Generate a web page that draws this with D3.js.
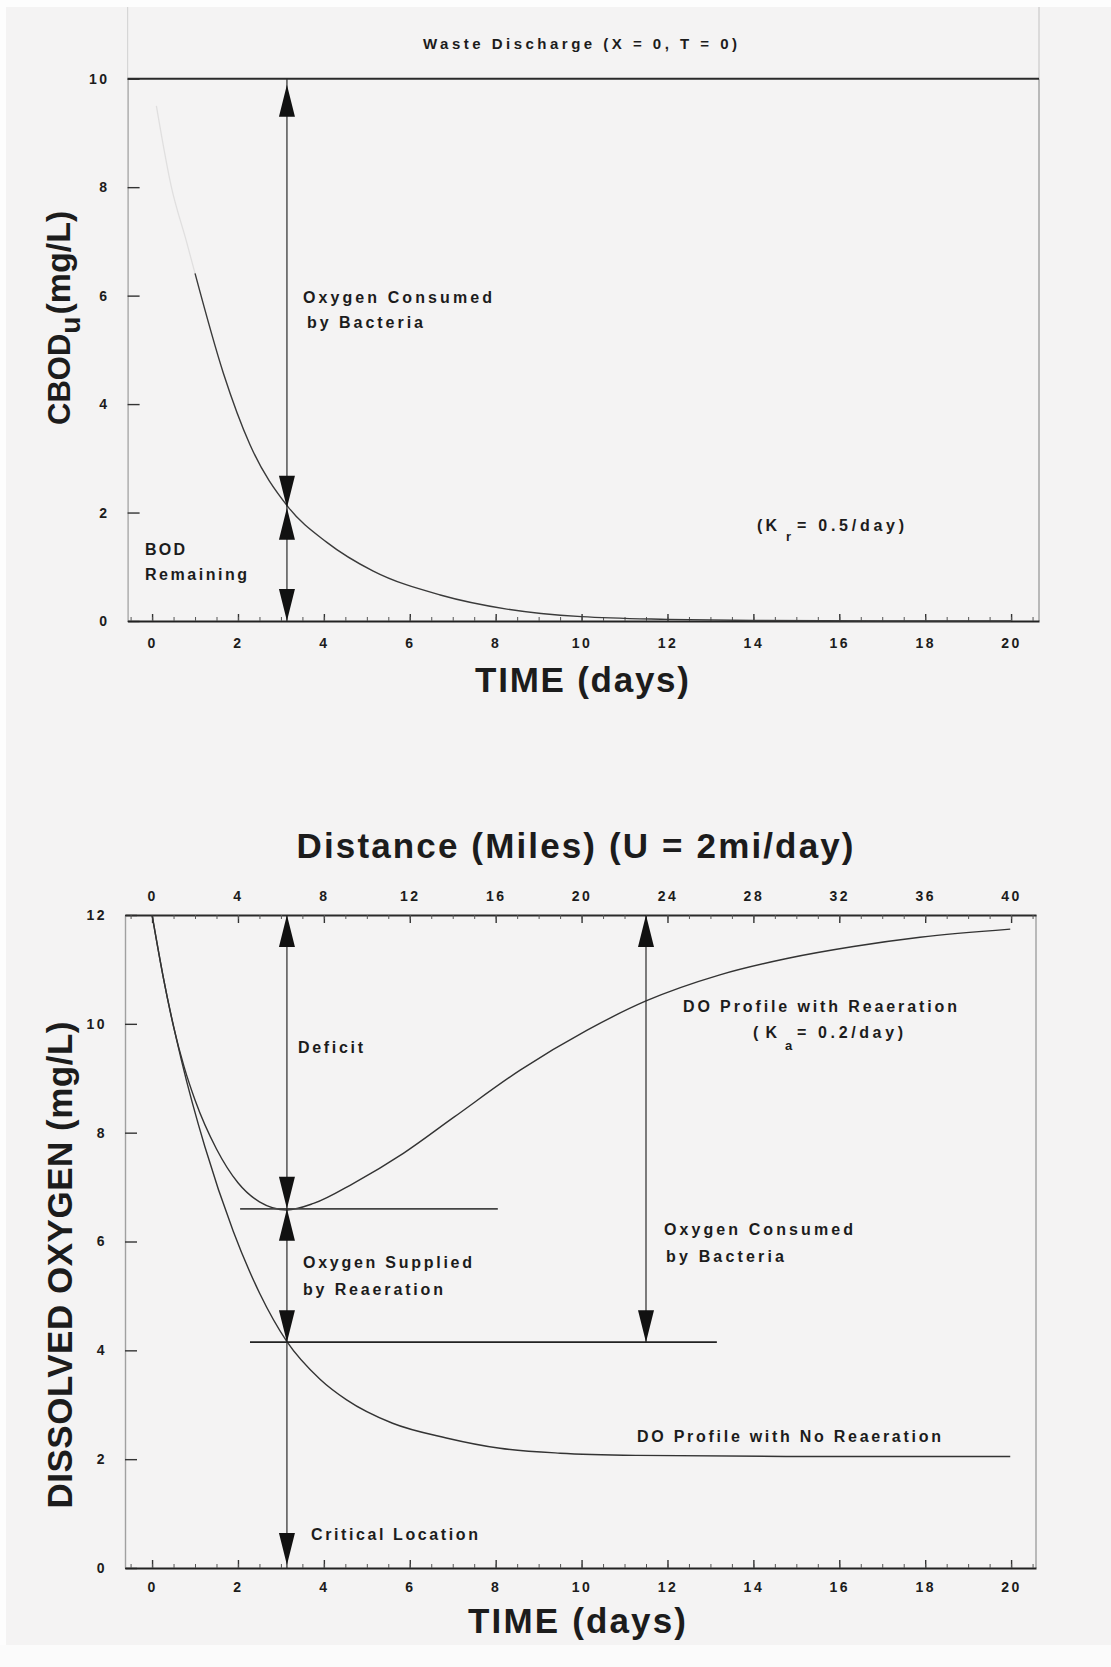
<!DOCTYPE html>
<html>
<head>
<meta charset="utf-8">
<script src="https://cdn.jsdelivr.net/npm/d3@7"></script>
<style>
  body { margin: 0; background: #f4f3f3; }
  svg { display: block; }
  text { font-family: "Liberation Sans", Arial, sans-serif; fill: #1c1c1c; }
</style>
</head>
<body>
<div class="chart"></div>
<script>
var svgWidth = 1111;
var svgHeight = 1667;

// ---- data ----
// upper panel: CBOD remaining (mg/L) vs time (days)
var bodTime  = [1.0, 1.66, 2.28, 3.17, 4.07, 5.15, 6.71, 8.26, 10, 12, 14, 17, 20];
var bodValue = [6.41, 4.57, 3.25, 2.1, 1.45, 0.92, 0.48, 0.22, 0.08, 0.03, 0.01, 0.0, 0.0];
// faded start of the same curve (barely visible in the scan)
var bodFadedTime  = [0.1, 0.45, 0.8, 1.0];
var bodFadedValue = [9.5, 8.0, 7.0, 6.41];

// lower panel: DO (mg/L) vs time (days)
var doReaerTime  = [0, 0.25, 0.5, 0.75, 1.0, 1.5, 2.0, 2.5, 3.14, 3.76, 4.69, 5.85, 7.02, 8.57, 10.12, 11.5, 13.22, 14.78, 16.33, 17.88, 19.98];
var doReaerValue = [12, 10.9, 9.95, 9.2, 8.6, 7.7, 7.08, 6.73, 6.58, 6.7, 7.07, 7.62, 8.28, 9.15, 9.88, 10.42, 10.9, 11.2, 11.42, 11.59, 11.74];
var doNoReaerTime  = [0, 0.26, 0.69, 1.23, 1.89, 2.51, 3.14, 3.91, 4.53, 5.6, 6.85, 8.1, 9.5, 11.3, 14.8, 19.98];
var doNoReaerValue = [12, 10.86, 9.31, 7.74, 6.19, 5.04, 4.16, 3.47, 3.09, 2.66, 2.39, 2.2, 2.11, 2.07, 2.05, 2.05];

// reference levels and times used by the annotation arrows
var criticalTime = 3.14;
var laterTime = 11.5;
var bodAtCritical = 2.09;
var doMinReaer = 6.6;
var doCritical = 4.15;

// tick labels
var timeTicks = [0, 2, 4, 6, 8, 10, 12, 14, 16, 18, 20];
var bodTicks = [0, 2, 4, 6, 8, 10];
var doTicks = [0, 2, 4, 6, 8, 10, 12];
var mileTicks = [0, 4, 8, 12, 16, 20, 24, 28, 32, 36, 40];

var svg = d3.select(".chart")
  .append("svg")
  .attr("width", svgWidth)
  .attr("height", svgHeight);

// scanned page look: grey sheet with thin white margins
svg.append("rect").attr("width", svgWidth).attr("height", svgHeight).attr("fill", "#f4f3f3");
svg.append("rect").attr("width", svgWidth).attr("height", 7).attr("fill", "#fdfdfd");
svg.append("rect").attr("width", 6).attr("height", svgHeight).attr("fill", "#fdfdfd");
svg.append("rect").attr("y", 1645).attr("width", svgWidth).attr("height", 22).attr("fill", "#fbfbfb");

// scales
var xTop = d3.scaleLinear().domain([-0.57, 20.65]).range([127.6, 1039]);
var yTop = d3.scaleLinear().domain([0, 10]).range([621, 78.7]);
var xBot = d3.scaleLinear().domain([-0.63, 20.58]).range([125, 1036]);
var yBot = d3.scaleLinear().domain([0, 12]).range([1568, 915]);
var xMiles = d3.scaleLinear().domain([-1.26, 41.16]).range([125, 1036]);

function styleAxis(g, domainColor) {
  g.select(".domain").attr("stroke", domainColor).attr("stroke-width", 1.4);
  g.selectAll(".tick line").attr("stroke", "#333").attr("stroke-width", 1.4);
  g.selectAll(".tick text")
    .attr("fill", "#222")
    .style("font-size", "14px")
    .style("font-weight", "bold")
    .style("letter-spacing", "2.5px");
}

function minorTicks(g, axis) {
  g.call(axis);
  g.select(".domain").remove();
  g.selectAll(".tick line").attr("stroke", "#555").attr("stroke-width", 1);
}

// ================= upper panel =================
var topG = svg.append("g");

// faint frame extensions above the 10 line
topG.append("line").attr("x1", 127.6).attr("x2", 127.6).attr("y1", 7).attr("y2", yTop(10))
  .attr("stroke", "#d6d6d6").attr("stroke-width", 1.2);
topG.append("line").attr("x1", 1039).attr("x2", 1039).attr("y1", 7).attr("y2", yTop(10))
  .attr("stroke", "#cacaca").attr("stroke-width", 1.2);

// right border
topG.append("line").attr("x1", 1039).attr("x2", 1039).attr("y1", yTop(10)).attr("y2", yTop(0))
  .attr("stroke", "#9a9a9a").attr("stroke-width", 1.3);

// left axis
var topLeft = topG.append("g").attr("transform", "translate(127.6,0)")
  .call(d3.axisLeft(yTop).tickValues(bodTicks).tickSize(-12).tickSizeOuter(0).tickPadding(18));
styleAxis(topLeft, "#a8a8a8");

// bottom axis
var topBottom = topG.append("g").attr("transform", "translate(0," + yTop(0) + ")")
  .call(d3.axisBottom(xTop).tickValues(timeTicks).tickSize(-7).tickSizeOuter(0).tickPadding(17));
styleAxis(topBottom, "#222");
topBottom.select(".domain").attr("stroke-width", 2);
minorTicks(topG.append("g").attr("transform", "translate(0," + yTop(0) + ")"),
  d3.axisBottom(xTop).tickValues(d3.range(-0.5, 20.51, 0.5)).tickSize(-4).tickFormat(""));

// waste discharge line at CBOD = 10
topG.append("line").attr("x1", xTop.range()[0]).attr("x2", xTop.range()[1])
  .attr("y1", yTop(10)).attr("y2", yTop(10))
  .attr("stroke", "#2a2a2a").attr("stroke-width", 2);

// BOD curve
var bodLine = d3.line().x(d => xTop(d[0])).y(d => yTop(d[1])).curve(d3.curveMonotoneX);
topG.append("path").datum(d3.zip(bodFadedTime, bodFadedValue))
  .attr("d", bodLine).attr("fill", "none").attr("stroke", "#e0dfdf").attr("stroke-width", 1.3);
topG.append("path").datum(d3.zip(bodTime, bodValue))
  .attr("d", bodLine).attr("fill", "none").attr("stroke", "#3a3a3a").attr("stroke-width", 1.4);

// ================= lower panel =================
var botG = svg.append("g");

// right border
botG.append("line").attr("x1", 1036).attr("x2", 1036).attr("y1", yBot(12)).attr("y2", yBot(0))
  .attr("stroke", "#9a9a9a").attr("stroke-width", 1.3);

var botLeft = botG.append("g").attr("transform", "translate(125,0)")
  .call(d3.axisLeft(yBot).tickValues(doTicks).tickSize(-12).tickSizeOuter(0).tickPadding(18));
styleAxis(botLeft, "#a0a0a0");

var botBottom = botG.append("g").attr("transform", "translate(0," + yBot(0) + ")")
  .call(d3.axisBottom(xBot).tickValues(timeTicks).tickSize(-8).tickSizeOuter(0).tickPadding(14));
styleAxis(botBottom, "#222");
botBottom.select(".domain").attr("stroke-width", 2);
minorTicks(botG.append("g").attr("transform", "translate(0," + yBot(0) + ")"),
  d3.axisBottom(xBot).tickValues(d3.range(-0.5, 20.51, 0.5)).tickSize(-4).tickFormat(""));

// distance axis on top
var botTop = botG.append("g").attr("transform", "translate(0," + yBot(12) + ")")
  .call(d3.axisTop(xMiles).tickValues(mileTicks).tickSize(-8).tickSizeOuter(0).tickPadding(14));
styleAxis(botTop, "#2a2a2a");
botTop.select(".domain").attr("stroke-width", 2);
minorTicks(botG.append("g").attr("transform", "translate(0," + yBot(12) + ")"),
  d3.axisTop(xMiles).tickValues(d3.range(-1, 41.1, 1)).tickSize(-4).tickFormat(""));

var doLine = d3.line().x(d => xBot(d[0])).y(d => yBot(d[1])).curve(d3.curveMonotoneX);
botG.append("path").datum(d3.zip(doReaerTime, doReaerValue))
  .attr("d", doLine).attr("fill", "none").attr("stroke", "#333").attr("stroke-width", 1.4);
botG.append("path").datum(d3.zip(doNoReaerTime, doNoReaerValue))
  .attr("d", doLine).attr("fill", "none").attr("stroke", "#333").attr("stroke-width", 1.4);

// horizontal reference levels
botG.append("line").attr("x1", xBot(2.05)).attr("x2", xBot(8.05))
  .attr("y1", yBot(doMinReaer)).attr("y2", yBot(doMinReaer))
  .attr("stroke", "#444").attr("stroke-width", 1.6);
botG.append("line").attr("x1", xBot(2.28)).attr("x2", xBot(13.15))
  .attr("y1", yBot(doCritical)).attr("y2", yBot(doCritical))
  .attr("stroke", "#222").attr("stroke-width", 1.8);

// ================= arrows =================
function vLine(g, x, y1, y2) {
  g.append("line").attr("x1", x).attr("x2", x).attr("y1", y1).attr("y2", y2)
    .attr("stroke", "#2a2a2a").attr("stroke-width", 1.2);
}
// dir = -1 points up (base below tip), +1 points down
function head(g, x, y, dir) {
  var h = 32, w = 8;
  g.append("path")
    .attr("d", "M" + x + "," + y + "L" + (x - w) + "," + (y - dir * h) + "L" + (x + w) + "," + (y - dir * h) + "Z")
    .attr("fill", "#111");
}

var xa = xTop(criticalTime);
vLine(topG, xa, yTop(10), yTop(0));
head(topG, xa, yTop(10) + 6, -1);
head(topG, xa, yTop(bodAtCritical), 1);
head(topG, xa, yTop(bodAtCritical), -1);
head(topG, xa, yTop(0), 1);

var xb = xBot(criticalTime);
vLine(botG, xb, yBot(12), yBot(0));
head(botG, xb, yBot(12), -1);
head(botG, xb, yBot(doMinReaer), 1);
head(botG, xb, yBot(doMinReaer), -1);
head(botG, xb, yBot(doCritical), 1);
head(botG, xb, yBot(0) - 3, 1);

var xc = xBot(laterTime);
vLine(botG, xc, yBot(12), yBot(doCritical));
head(botG, xc, yBot(12), -1);
head(botG, xc, yBot(doCritical), 1);

// ================= text =================
function note(x, y, s, w, size) {
  var t = svg.append("text").attr("x", x).attr("y", y)
    .style("font-size", (size || 16) + "px").style("font-weight", "bold")
    .text(s);
  if (w) t.attr("textLength", w).attr("lengthAdjust", "spacing");
  return t;
}

note(423, 49, "Waste Discharge (X = 0, T = 0)", 314, 15);
note(303, 303, "Oxygen Consumed", 189);
note(307, 328, "by Bacteria", 116);
note(145, 555, "BOD", 40);
note(145, 580, "Remaining", 102);
note(757, 531, "(K", 20);
note(786, 541, "r", 0, 13);
note(797, 531, "= 0.5/day)", 107);

note(298, 1053, "Deficit", 65);
note(303, 1268, "Oxygen Supplied", 169);
note(303, 1295, "by Reaeration", 140);
note(683, 1012, "DO Profile with Reaeration", 274);
note(753, 1038, "(K", 24);
note(785, 1050, "a", 0, 13);
note(797, 1038, "= 0.2/day)", 106);
note(664, 1235, "Oxygen Consumed", 189);
note(666, 1262, "by Bacteria", 118);
note(637, 1442, "DO Profile with No Reaeration", 304);
note(311, 1540, "Critical Location", 167);

// axis titles
function big(x, y, s, w) {
  return svg.append("text").attr("x", x).attr("y", y)
    .attr("text-anchor", "middle")
    .style("font-size", "35px").style("font-weight", "bold")
    .attr("textLength", w).attr("lengthAdjust", "spacing")
    .text(s);
}
big(582, 692, "TIME (days)", 214);
big(577, 1633, "TIME (days)", 218);
big(575, 858, "Distance (Miles) (U = 2mi/day)", 557);

svg.append("text")
  .attr("transform", "translate(70,425) rotate(-90)")
  .style("font-size", "31px").style("font-weight", "bold")
  .call(t => {
    t.append("tspan").text("CBOD");
    t.append("tspan").attr("dy", 10).style("font-size", "28px").text("u");
    t.append("tspan").attr("dy", -10).attr("dx", 2).style("font-size", "34px").text("(mg/L)");
  });

svg.append("text")
  .attr("transform", "translate(72,1265) rotate(-90)")
  .attr("text-anchor", "middle")
  .style("font-size", "35px").style("font-weight", "bold")
  .attr("textLength", 487).attr("lengthAdjust", "spacing")
  .text("DISSOLVED OXYGEN (mg/L)");
</script>
</body>
</html>
